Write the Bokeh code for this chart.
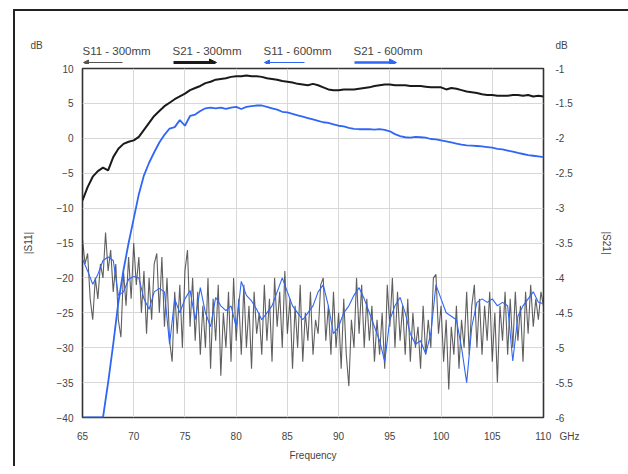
import numpy as np
from bokeh.plotting import figure
from bokeh.layouts import column, row
from bokeh.models import (Range1d, LinearAxis, SingleIntervalTicker, Arrow,
                          NormalHead, NumeralTickFormatter, Spacer)
from bokeh.core.properties import value
from bokeh.embed import file_html
from bokeh.resources import INLINE

# ---------------- data ----------------
FREQ_MIN, FREQ_MAX = 65.0, 110.0
S11_300_STEP = 0.25   # GHz
S11_600_STEP = 0.5
S21_STEP = 0.5

# |S11| 300 mm (black), dB, every 0.25 GHz from 65 GHz
S11_300 = [
    -14.5, -18, -16.5, -23,      # 65
    -26, -20, -23, -18,          # 66
    -20, -13.5, -19, -16,        # 67
    -22, -18, -26, -28.5,        # 68
    -19, -24, -17, -23,          # 69
    -15, -21, -17, -25,          # 70
    -19, -28, -20, -26,          # 71
    -18, -16.5, -25, -17,        # 72
    -27, -20, -29, -32,          # 73
    -22, -28, -21, -30,          # 74
    -19, -16, -27, -20,          # 75
    -29, -22, -31, -24,          # 76
    -30, -20, -33, -23,          # 77
    -29, -21, -34, -25,          # 78
    -30, -22, -32, -20,          # 79
    -29, -23, -31, -21,          # 80
    -30, -24, -33, -22,          # 81
    -28, -25, -31, -21,          # 82
    -29, -23, -32, -20,          # 83
    -27, -22, -30, -19,          # 84
    -28, -23, -33, -24,          # 85
    -30, -21, -32, -25,          # 86
    -29, -22, -31, -26,          # 87
    -28, -21, -20, -29,          # 88
    -24, -31, -22, -30,          # 89
    -25, -33, -23, -31,          # 90
    -35.5, -26, -30, -20,        # 91
    -28, -21, -30, -23,          # 92
    -29, -24, -32, -26,          # 93
    -31, -25, -33, -21,          # 94
    -27, -20, -30, -22,          # 95
    -29, -24, -31, -23,          # 96
    -32, -25, -30, -27,          # 97
    -33, -24, -31, -26,          # 98
    -30, -20, -19.5, -28,        # 99
    -24, -32, -26, -36,          # 100
    -27, -31, -24, -33,          # 101
    -26, -30, -22, -31,          # 102
    -24, -21, -30, -23,          # 103
    -31, -24, -29, -22,          # 104
    -32, -25, -35, -24,          # 105
    -29, -22, -31, -23,          # 106
    -30, -22, -29, -24,          # 107
    -32, -22, -28, -21,          # 108
    -27, -23, -26, -22,          # 109
    -24,                         # 110
]

# |S11| 600 mm (blue), dB, every 0.5 GHz from 65 GHz
S11_600 = [
    -17.3, -19, -20.9, -19.5, -17.5, -17, -17.5, -22.5, -22, -20.2,    # 65-69.5
    -19.8, -20, -23, -24.5, -22, -21.5, -22, -29.5, -23, -25,          # 70-74.5
    -23, -21.8, -26, -21.4, -25, -27, -22.8, -24, -24.7, -24,          # 75-79.5
    -27, -20.5, -22.5, -23.3, -24.5, -26, -25, -24, -22, -20,          # 80-84.5
    -22, -24, -25, -26, -25, -24, -22, -21, -24, -28,                  # 85-89.5
    -27, -25, -24, -22.5, -21.4, -23, -25, -27, -29, -32,              # 90-94.5
    -26, -24, -22.8, -25, -28, -29.5, -29, -30.9, -28, -21,            # 95-99.5
    -23, -25, -25.5, -26, -30, -35, -27, -23.5, -23, -23.5,            # 100-104.5
    -23, -24, -23.5, -24, -31.9, -25.5, -24, -23, -22, -23.5,          # 105-109.5
    -23.7,                                                             # 110
]

# |S21| 300 mm (black), dB (right axis), every 0.5 GHz from 65 GHz
S21_300 = [
    -2.89, -2.70, -2.55, -2.47, -2.42, -2.46, -2.27, -2.15, -2.08, -2.05,   # 65-69.5
    -2.03, -1.98, -1.88, -1.78, -1.68, -1.61, -1.54, -1.49, -1.44, -1.40,   # 70-74.5
    -1.36, -1.31, -1.28, -1.25, -1.21, -1.19, -1.16, -1.15, -1.14, -1.12,   # 75-79.5
    -1.11, -1.11, -1.10, -1.11, -1.11, -1.12, -1.14, -1.15, -1.16, -1.18,   # 80-84.5
    -1.19, -1.20, -1.22, -1.23, -1.24, -1.22, -1.24, -1.27, -1.30, -1.31,   # 85-89.5
    -1.31, -1.30, -1.30, -1.30, -1.29, -1.28, -1.27, -1.25, -1.24, -1.23,   # 90-94.5
    -1.23, -1.24, -1.24, -1.24, -1.25, -1.25, -1.25, -1.26, -1.27, -1.27,   # 95-99.5
    -1.27, -1.30, -1.28, -1.29, -1.31, -1.33, -1.34, -1.35, -1.37, -1.38,   # 100-104.5
    -1.38, -1.39, -1.39, -1.39, -1.38, -1.38, -1.39, -1.38, -1.40, -1.39,   # 105-109.5
    -1.40,                                                                  # 110
]

# |S21| 600 mm (blue), dB (right axis), every 0.5 GHz from 65 GHz
S21_600 = [
    -6.0, -6.0, -6.0, -6.0, -6.0, -5.5, -4.95, -4.35, -3.89, -3.5,          # 65-69.5
    -3.15, -2.8, -2.53, -2.35, -2.2, -2.06, -1.95, -1.86, -1.84, -1.74,     # 70-74.5
    -1.82, -1.68, -1.66, -1.61, -1.57, -1.56, -1.57, -1.56, -1.58, -1.56,   # 75-79.5
    -1.55, -1.58, -1.55, -1.54, -1.53, -1.53, -1.55, -1.57, -1.59, -1.62,   # 80-84.5
    -1.63, -1.65, -1.67, -1.69, -1.71, -1.73, -1.75, -1.77, -1.78, -1.80,   # 85-89.5
    -1.82, -1.83, -1.85, -1.865, -1.87, -1.87, -1.87, -1.875, -1.87, -1.88, # 90-94.5
    -1.90, -1.94, -1.97, -1.985, -1.99, -1.98, -1.985, -1.99, -2.01, -2.015,# 95-99.5
    -2.03, -2.045, -2.06, -2.075, -2.09, -2.10, -2.105, -2.11, -2.115, -2.125, # 100-104.5
    -2.135, -2.15, -2.16, -2.175, -2.19, -2.21, -2.225, -2.24, -2.25, -2.26,   # 105-109.5
    -2.27,                                                                  # 110
]

LEGEND_LABELS = ["S11 - 300mm", "S21 - 300mm", "S11 - 600mm", "S21 - 600mm"]
UNIT_LABEL = "dB"
X_UNIT = "GHz"
X_TICK_INTERVAL = 5
S11_RANGE = (-40, 10)
S21_RANGE = (-6, -1)

# ---------------- styling / layout ----------------
FONT = "Liberation Sans"
TXT = "#444444"
BLACK = "#1a1a1a"
BLUE = "#2f66f5"
FRAME = "#222222"

OFF_X, OFF_Y = 13, 9          # outer frame corner on the page
LINE = 2                      # outer frame line width
CW = 613                      # content width (page x 15..628)
HDR_H = 53                    # header strip (page y 11..64)
MAIN_H = 402                  # main figure (page y 64..466)
BL, BR, BT, BB = 67, 85, 4, 49
FW = CW - BL - BR             # frame width (461)
px_x = FW / (FREQ_MAX - FREQ_MIN)
X_LO = FREQ_MIN - BL / px_x
X_HI = FREQ_MAX + BR / px_x

# ---------- header figure: unit labels + legend ----------
hdr = figure(width=CW, height=HDR_H, output_backend="svg", toolbar_location=None,
             x_range=Range1d(X_LO, X_HI), y_range=Range1d(HDR_H, 0),
             min_border=0, x_axis_location=None, y_axis_location=None)
hdr.outline_line_color = None
hdr.grid.grid_line_color = None
hdr.background_fill_color = "white"
hdr.border_fill_color = "white"

UNIT_Y = 34
hdr.text(x=[FREQ_MIN - 46 / px_x, FREQ_MAX + 18 / px_x], y=[UNIT_Y, UNIT_Y],
         text=[UNIT_LABEL, UNIT_LABEL], text_font=value(FONT), text_font_size="10px",
         text_color=TXT, text_align="center", text_baseline="middle")

leg_px = [0, 90, 181, 271]           # px from frame left
arrow_len = [39, 43, 40, 42]
arrow_dir = ["left", "right", "left", "right"]
arrow_col = ["#555555", BLACK, BLUE, BLUE]
arrow_w = [1, 3, 1, 2.5]
LEG_Y, ARR_Y = 39, 51
hdr.text(x=[FREQ_MIN + v / px_x for v in leg_px], y=[LEG_Y] * 4, text=LEGEND_LABELS,
         text_font=value(FONT), text_font_size="11.5px", text_color=TXT,
         text_align="left", text_baseline="middle")
for x0, L, d, c, w in zip(leg_px, arrow_len, arrow_dir, arrow_col, arrow_w):
    xa, xb = FREQ_MIN + (x0 + 1) / px_x, FREQ_MIN + (x0 + 1 + L) / px_x
    if d == "left":
        xa, xb = xb, xa
    head = NormalHead(size=5 if w < 2 else 7, fill_color=c, line_color=c)
    hdr.add_layout(Arrow(end=head, x_start=xa, y_start=ARR_Y, x_end=xb, y_end=ARR_Y,
                         line_color=c, line_width=w))

# ---------- main figure ----------
p = figure(width=CW, height=MAIN_H, output_backend="svg", toolbar_location=None,
           x_range=Range1d(FREQ_MIN, FREQ_MAX), y_range=Range1d(*S11_RANGE),
           min_border_left=BL, min_border_right=BR, min_border_top=BT, min_border_bottom=BB)
p.extra_y_ranges = {"s21": Range1d(*S21_RANGE)}
p.background_fill_color = "white"
p.border_fill_color = "white"
p.outline_line_color = "#333333"
p.outline_line_width = 1.6

for fig in (hdr, p):
    if "frame_align" in fig.properties():
        fig.frame_align = False

p.xaxis.ticker = SingleIntervalTicker(interval=X_TICK_INTERVAL)
p.yaxis.ticker = SingleIntervalTicker(interval=5)
p.xaxis.axis_label = "Frequency"
p.yaxis.axis_label = "|S11|"
# unit written after the last tick label (non-breaking spaces keep "110" centred on its tick)
p.xaxis.major_label_overrides = {int(FREQ_MAX): "\u00a0" * 10 + f"{int(FREQ_MAX)}\u00a0\u00a0 {X_UNIT}"}
right = LinearAxis(y_range_name="s21", ticker=SingleIntervalTicker(interval=0.5),
                   formatter=NumeralTickFormatter(format="0.[0]"), axis_label="|S21|")
p.add_layout(right, "right")

for ax in [p.xaxis[0], p.yaxis[0], right]:
    ax.axis_line_color = None
    ax.major_tick_line_color = None
    ax.minor_tick_line_color = None
    ax.major_tick_out = 0
    ax.major_tick_in = 0
    ax.minor_tick_out = 0
    ax.minor_tick_in = 0
    ax.major_label_text_font = FONT
    ax.major_label_text_font_size = "10px"
    ax.major_label_text_color = TXT
    ax.axis_label_text_font = FONT
    ax.axis_label_text_font_size = "10px"
    ax.axis_label_text_font_style = "normal"
    ax.axis_label_text_color = TXT
p.xaxis.major_label_standoff = 13
p.xaxis.axis_label_standoff = 5
p.yaxis[0].major_label_standoff = 9
p.yaxis[0].axis_label_standoff = 20
right.major_label_standoff = 12
right.axis_label_standoff = 25

p.xgrid.grid_line_color = "#d8d8d8"
p.ygrid.grid_line_color = "#d8d8d8"

f_s11_300 = FREQ_MIN + S11_300_STEP * np.arange(len(S11_300))
f_s11_600 = FREQ_MIN + S11_600_STEP * np.arange(len(S11_600))
f_s21 = FREQ_MIN + S21_STEP * np.arange(len(S21_300))

p.line(f_s11_300, S11_300, line_color="#2a2a2a", line_width=1.1, line_alpha=0.75)
p.line(f_s11_600, S11_600, line_color=BLUE, line_width=1.1)
p.line(f_s21, S21_300, line_color=BLACK, line_width=2, y_range_name="s21")
p.line(f_s21, S21_600, line_color=BLUE, line_width=1.8, y_range_name="s21")

# ---------- page layout with outer frame (left + top edges) ----------
top_bar = Spacer(width=LINE + CW, height=LINE, styles={"background-color": FRAME})
left_bar = Spacer(width=LINE, height=HDR_H + MAIN_H, styles={"background-color": FRAME})
inner = column(top_bar, row(left_bar, column(hdr, p, spacing=0), spacing=0), spacing=0)
layout = column(Spacer(height=OFF_Y, width=OFF_X + LINE + CW),
                row(Spacer(width=OFF_X, height=LINE + HDR_H + MAIN_H), inner, spacing=0),
                spacing=0)

open("out.html", "w").write(file_html(layout, INLINE))
